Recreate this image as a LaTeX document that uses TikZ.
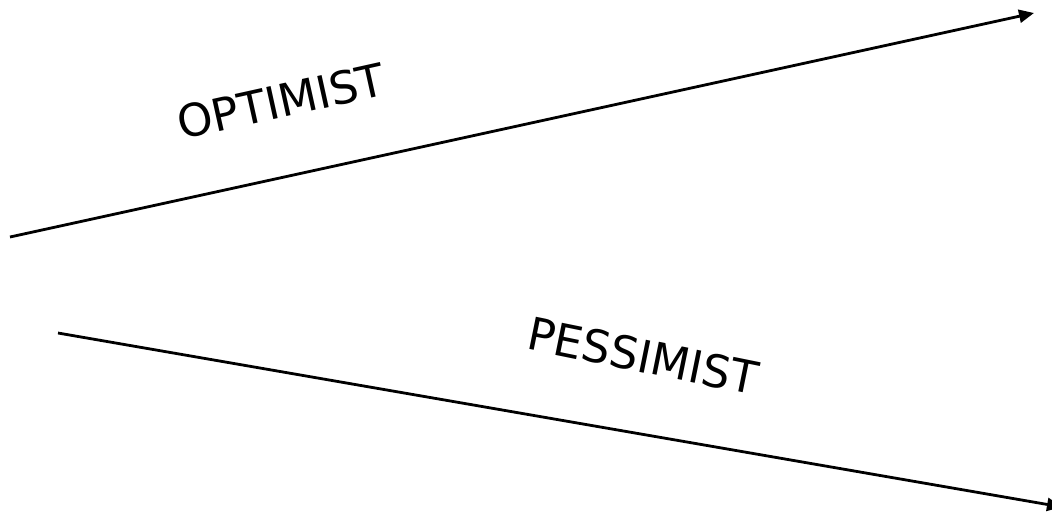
\documentclass[tikz,border=0pt]{standalone}
\usepackage{fontspec}
\setmainfont{DejaVu Sans}
\usetikzlibrary{arrows.meta}
\begin{document}
\begin{tikzpicture}[x=1pt,y=-1pt,
  trend/.style={line width=2.8pt,-{Triangle[length=15pt,width=13pt]}},
  lbl/.style={font=\fontsize{45}{45}\selectfont,inner sep=0pt}]
\useasboundingbox (0,0) rectangle (1052,515);
\coordinate (o1) at (10,237);
\coordinate (o2) at (1034,13);
\coordinate (p1) at (58,333);
\coordinate (p2) at (1062,507);
\draw[trend] (o1) -- (o2);
\draw[trend] (p1) -- (p2);
\node[lbl,rotate=12.5] (opt) at (281,101) {OPTIMIST};
\node[lbl,rotate=-11.5] (pes) at (643,356) {PESSIMIST};
\end{tikzpicture}
\end{document}
